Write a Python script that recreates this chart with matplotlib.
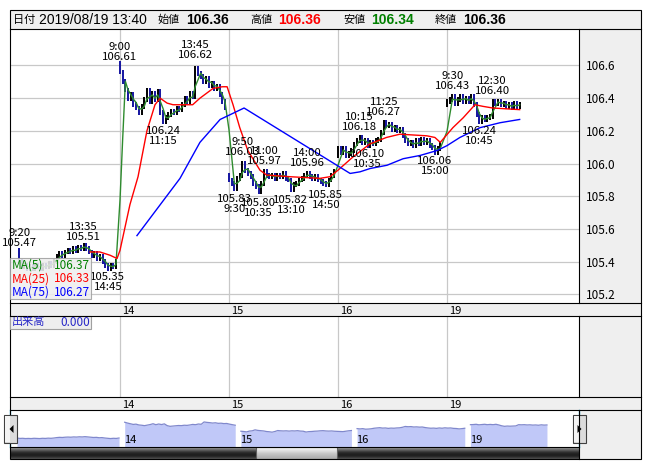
import numpy as np
import pandas as pd
import matplotlib
matplotlib.use('Agg')
import matplotlib.pyplot as plt
from matplotlib.patches import Rectangle, Polygon
from matplotlib.ticker import FormatStrFormatter
import matplotlib.transforms as mtrans

plt.rcParams['font.family'] = ['Liberation Sans Narrow', 'Noto Sans CJK JP', 'DejaVu Sans']

W, H = 652, 469
SLOTS = 40.5          # 10-minute slots per session column

# ── data (10-minute closes) ────────────────────────────────────────────────
day_labels = ['13', '14', '15', '16', '19']
first_slot = [3, 0, 0, 0, 0]
day_open   = [105.47, 106.61, 105.93, 106.05, 106.36]

close_13 = [105.40, 105.37, 105.38, 105.36, 105.37, 105.36, 105.38, 105.37, 105.36, 105.38,
            105.37, 105.39, 105.38, 105.40, 105.43, 105.45, 105.44, 105.46, 105.47, 105.46,
            105.48, 105.47, 105.49, 105.48, 105.50, 105.48, 105.46, 105.44, 105.45, 105.42,
            105.43, 105.40, 105.38, 105.36, 105.38, 105.37, 105.40]
close_14 = [106.56, 106.50, 106.45, 106.40, 106.42, 106.36, 106.34, 106.31, 106.35, 106.39,
            106.45, 106.38, 106.43, 106.39, 106.44, 106.31, 106.26, 106.28, 106.30, 106.32,
            106.31, 106.34, 106.33, 106.36, 106.40, 106.38, 106.43, 106.41, 106.58, 106.55,
            106.53, 106.50, 106.52, 106.48, 106.49, 106.46, 106.47, 106.42, 106.38, 106.34]
close_15 = [105.90, 105.88, 105.85, 105.91, 105.93, 106.00, 105.96, 105.94, 105.92, 105.88,
            105.86, 105.83, 105.88, 105.95, 105.93, 105.92, 105.93, 105.91, 105.93, 105.92,
            105.94, 105.91, 105.90, 105.84, 105.87, 105.88, 105.90, 105.91, 105.93, 105.94,
            105.92, 105.91, 105.92, 105.90, 105.89, 105.88, 105.87, 105.90, 105.93, 105.95]
close_16 = [106.09, 106.07, 106.09, 106.05, 106.06, 106.08, 106.12, 106.14, 106.16, 106.13,
            106.14, 106.11, 106.13, 106.12, 106.14, 106.15, 106.19, 106.25, 106.23, 106.24,
            106.21, 106.22, 106.20, 106.21, 106.17, 106.14, 106.12, 106.13, 106.11, 106.14,
            106.12, 106.15, 106.13, 106.14, 106.11, 106.10, 106.07, 106.09, 106.12]
close_19 = [106.38, 106.39, 106.41, 106.37, 106.39, 106.41, 106.38, 106.40, 106.38, 106.41,
            106.36, 106.30, 106.26, 106.28, 106.27, 106.28, 106.29, 106.38, 106.37, 106.38,
            106.36, 106.37, 106.35, 106.36, 106.34, 106.37, 106.35, 106.36]
day_closes = [close_13, close_14, close_15, close_16, close_19]

# MA(25) / MA(75): (day, slot, value)
ma25_day  = [0, 0, 0, 0, 1, 1, 1, 1, 1, 1, 1, 1, 1, 1, 1, 1, 1,
             2, 2, 2, 2, 2, 2, 2, 2, 3, 3, 3, 3, 3, 3, 3, 3, 4, 4, 4, 4, 4, 4]
ma25_slot = [29.4, 33, 36.8, 39.4, 0, 3.7, 6.7, 10, 13, 14.9, 17.5, 19.7, 27, 29.7, 34.6, 38, 39.8,
             1.5, 4, 7, 11.5, 14, 22.7, 33.8, 37.5, 0, 5.5, 11.8, 18, 23, 33, 36, 38,
             2.2, 6, 10.4, 13.4, 17, 27]
ma25_val  = [105.46, 105.46, 105.44, 105.42, 105.47, 105.75, 105.92, 106.20, 106.36, 106.40,
             106.37, 106.36, 106.36, 106.40, 106.46, 106.47, 106.47,
             106.36, 106.22, 106.08, 105.96, 105.93, 105.92, 105.91, 105.92,
             105.96, 106.04, 106.12, 106.16, 106.18, 106.17, 106.16, 106.13,
             106.22, 106.28, 106.36, 106.35, 106.34, 106.33]

ma75_day  = [1, 1, 1, 1, 2, 3, 3, 3, 3, 3, 3, 3, 4, 4, 4, 4, 4]
ma75_slot = [6.3, 22.3, 29.7, 37.2, 5.6, 4.5, 8.2, 11.9, 18.2, 24.2, 30.5, 36.8, 0, 4.8, 12.3, 19.7, 27]
ma75_val  = [105.56, 105.91, 106.13, 106.27, 106.34, 105.94, 105.95, 105.97, 105.99, 106.03,
             106.05, 106.08, 106.11, 106.16, 106.22, 106.25, 106.27]

# high / low markers
ann_day   = [0, 0, 0, 1, 1, 1, 2, 2, 2, 2, 2, 2, 2, 3, 3, 3, 3, 4, 4, 4]
ann_slot  = [3, 27, 36, 0, 16, 28, 2, 5, 11, 13, 23, 29, 36, 8, 11, 17, 36, 2, 12, 17]
ann_time  = ['9:20', '13:35', '14:45', '9:00', '11:15', '13:45', '9:30', '9:50', '10:35', '11:00',
             '13:10', '14:00', '14:50', '10:15', '10:35', '11:25', '15:00', '9:30', '10:45', '12:30']
ann_price = [105.47, 105.51, 105.35, 106.61, 106.24, 106.62, 105.83, 106.03, 105.80, 105.97,
             105.82, 105.96, 105.85, 106.18, 106.10, 106.27, 106.06, 106.43, 106.24, 106.40]
ann_high  = [1, 1, 0, 1, 0, 1, 0, 1, 0, 1, 0, 1, 0, 1, 0, 1, 0, 1, 0, 1]

ma_names  = ['MA(5)', 'MA(25)', 'MA(75)']
ma_values = ['106.37', '106.33', '106.27']
ma_colors = ['#008000', '#ff0000', '#0000ff']

hdr_date   = '2019/08/19 13:40'
hdr_names  = ['始値', '高値', '安値', '終値']
hdr_values = [106.36, 106.36, 106.34, 106.36]
hdr_colors = ['black', '#ff0000', '#008000', 'black']


def rect(x0, y0, x1, y1):
    return [x0 / W, 1 - y1 / H, (x1 - x0) / W, (y1 - y0) / H]


# ── assemble series ─────────────────────────────────────────────────────────
pos, opens, closes, nav_x = [], [], [], []
nav_off = 0
nav_starts = []
for k, cl in enumerate(day_closes):
    prev = day_open[k]
    nav_starts.append(nav_off)
    for i, c in enumerate(cl):
        pos.append(k + (first_slot[k] + i) / SLOTS)
        opens.append(prev)
        closes.append(c)
        nav_x.append(nav_off + i)
        prev = c
    nav_off += len(cl) + 1
pos = np.array(pos); opens = np.array(opens); closes = np.array(closes)
nav_x = np.array(nav_x)
ma5 = pd.Series(closes).rolling(3, min_periods=1).mean()   # 3 x 10min ~ 5 x 5min

ma25_x = np.array(ma25_day) + np.array(ma25_slot) / SLOTS
ma75_x = np.array(ma75_day) + np.array(ma75_slot) / SLOTS

xlim = ((10 - 120) / 109 + 1, (579 - 120) / 109 + 1)

fig = plt.figure(figsize=(W / 100, H / 100), dpi=100)
fig.patch.set_facecolor('white')

# ── background panels ───────────────────────────────────────────────────────
bg = fig.add_axes([0, 0, 1, 1])
bg.set_xlim(0, W); bg.set_ylim(H, 0); bg.axis('off')
bg.add_patch(Rectangle((10, 10), 631, 449, fc='#efefef', ec='none'))

# ── price panel ─────────────────────────────────────────────────────────────
ax = fig.add_axes(rect(10, 29, 579, 303))
ax.set_facecolor('white')
ax.set_xlim(*xlim)
ax.set_ylim(105.148, 106.823)
ax.set_yticks(np.arange(105.2, 106.61, 0.2))
ax.yaxis.set_major_formatter(FormatStrFormatter('%.1f'))
ax.yaxis.tick_right()
ax.set_xticks([1, 2, 3, 4])
ax.set_xticklabels(day_labels[1:])
ax.tick_params(axis='y', length=0, pad=5, labelsize=8.5)
ax.tick_params(axis='x', length=0, pad=2, labelsize=8)
for t in ax.get_xticklabels():
    t.set_ha('left')
    t.set_transform(t.get_transform() + mtrans.ScaledTranslation(2 / 100, 0, fig.dpi_scale_trans))
ax.grid(color='#c8c8c8', lw=0.9)
ax.set_axisbelow(True)
for s in ax.spines.values():
    s.set_visible(False)

up = closes >= opens
ax.vlines(pos, np.minimum(opens, closes) - 0.015, np.maximum(opens, closes) + 0.015,
          colors=np.where(up, 'black', '#1414a0'), lw=1.4, zorder=2)
ax.plot(pos, ma5, color='#2e8b2e', lw=1.0, zorder=3)
ax.plot(ma25_x, ma25_val, color='#ff0000', lw=1.0, zorder=3)
ax.plot(ma75_x, ma75_val, color='#0000ff', lw=1.0, zorder=3)

for d, s, tm, p, hi in zip(ann_day, ann_slot, ann_time, ann_price, ann_high):
    x = d + s / SLOTS
    if hi:
        ax.annotate(f'{tm}\n{p:.2f}', (x, p), xytext=(0, 1.5), textcoords='offset points',
                    ha='center', va='bottom', fontsize=8.2, linespacing=1.0, zorder=5)
    else:
        ax.annotate(f'{p:.2f}\n{tm}', (x, p), xytext=(0, -1.5), textcoords='offset points',
                    ha='center', va='top', fontsize=8.2, linespacing=1.0, zorder=5)

# ── volume panel ────────────────────────────────────────────────────────────
vx = fig.add_axes(rect(10, 316, 579, 397))
vx.set_facecolor('white')
vx.set_xlim(*xlim); vx.set_ylim(0, 1)
vx.set_yticks([])
vx.set_xticks([1, 2, 3, 4])
vx.set_xticklabels(day_labels[1:])
vx.tick_params(axis='x', length=0, pad=2, labelsize=8)
for t in vx.get_xticklabels():
    t.set_ha('left')
    t.set_transform(t.get_transform() + mtrans.ScaledTranslation(2 / 100, 0, fig.dpi_scale_trans))
vx.grid(axis='x', color='#c8c8c8', lw=0.9)
for s in vx.spines.values():
    s.set_visible(False)

# ── navigator ───────────────────────────────────────────────────────────────
nv = fig.add_axes(rect(10, 410, 579, 447))
nv.set_facecolor('white')
nv.set_xlim(-7 / 2.83, nav_x[-1] + 32 / 2.83)
nv.set_ylim(104.74, 107.46)
nv.set_xticks([]); nv.set_yticks([])
k0 = 0
for k, cl in enumerate(day_closes):
    xs = nav_x[k0:k0 + len(cl)]
    nv.fill_between(xs, 104.74, cl, color='#c0c8f8', lw=0)
    nv.plot(xs, cl, color='#8088cc', lw=0.9)
    if k > 0:
        nv.text(nav_starts[k] - 0.3, 0.19, day_labels[k], transform=nv.get_xaxis_transform(),
                ha='left', va='center', fontsize=8)
    k0 += len(cl)
for side in ['top', 'bottom']:
    nv.spines[side].set_visible(False)
for side in ['left', 'right']:
    nv.spines[side].set_color('#30b8e8')
    nv.spines[side].set_lw(1.0)

# scrollbar
sb = fig.add_axes(rect(10, 447, 579, 459))
sb.set_xlim(0, 1); sb.set_ylim(0, 1); sb.axis('off')
trough = np.array([0.62, 0.50, 0.38, 0.27, 0.19, 0.14, 0.12, 0.14, 0.20, 0.30])[:, None]
sb.imshow(np.repeat(trough, 2, axis=1), cmap='gray', vmin=0, vmax=1, aspect='auto',
          extent=(0, 1, 0, 1), interpolation='bilinear')
thumb = np.array([0.97, 0.94, 0.90, 0.86, 0.82, 0.78, 0.75, 0.72, 0.70, 0.68])[:, None]
t0, t1 = (256 - 10) / 569, (337 - 10) / 569
sb.imshow(np.repeat(thumb, 2, axis=1), cmap='gray', vmin=0, vmax=1, aspect='auto',
          extent=(t0, t1, 0, 1), interpolation='bilinear')
sb.add_patch(Rectangle((t0, 0), t1 - t0, 1, fc='none', ec='#606060', lw=0.8))

# ── overlay: frame, header, legend, buttons ────────────────────────────────
ov = fig.add_axes([0, 0, 1, 1])
ov.set_xlim(0, W); ov.set_ylim(H, 0); ov.axis('off')
ov.patch.set_alpha(0)
lk = dict(color='black', lw=0.8)
ov.add_patch(Rectangle((10, 10), 631, 449, fc='none', ec='black', lw=0.8))
for y in [29, 303, 316, 397, 410]:
    ov.plot([10, 641], [y, y], **lk)
ov.plot([10, 579], [447, 447], **lk)
for y0, y1 in [(29, 303), (316, 397), (410, 459)]:
    ov.plot([579, 579], [y0, y1], **lk)

# header
ov.text(13, 20, '日付', fontsize=8, va='center', ha='left', family=['Noto Sans CJK JP'])
ov.text(39, 20.5, hdr_date, fontsize=10, va='center', ha='left', family=['Liberation Sans'])
for name, val, col, xn in zip(hdr_names, hdr_values, hdr_colors, [158, 250, 343, 435]):
    ov.text(xn, 20, name, fontsize=8, va='center', ha='left', family=['Noto Sans CJK JP'])
    ov.text(xn + 28, 20.5, f'{val:.2f}', fontsize=10, va='center', ha='left',
            color=col, fontweight='bold', family=['Liberation Sans'])

# MA legend box
ov.add_patch(Rectangle((10, 258), 81, 41, fc='#eeeeee', ec='#a0a0a0', lw=0.8, alpha=0.88))
for i, (nm, vv, cc) in enumerate(zip(ma_names, ma_values, ma_colors)):
    yy = 265.5 + i * 13.5
    ov.text(12, yy, nm, color=cc, fontsize=8.5, va='center', ha='left')
    ov.text(90, yy, vv, color=cc, fontsize=8.5, va='center', ha='right')

# volume label box
ov.add_patch(Rectangle((10, 316), 81, 13, fc='#eeeeee', ec='#a0a0a0', lw=0.8))
ov.text(12, 322.5, '出来高', color='#2828c8', fontsize=8, va='center', ha='left',
        family=['Noto Sans CJK JP'])
ov.text(90, 322.5, '0.000', color='#2828c8', fontsize=8.5, va='center', ha='right')

# navigator buttons
for bx, tri in [(4, [(13.5, 425), (13.5, 433), (9.5, 429)]),
                (573, [(577.5, 425), (577.5, 433), (581.5, 429)])]:
    ov.add_patch(Rectangle((bx, 415), 13, 28, fc='#dcdcdc', ec='#404040', lw=0.8))
    ov.add_patch(Rectangle((bx + 1, 416), 5, 26, fc='#f4f4f4', ec='none'))
    ov.add_patch(Polygon(tri, closed=True, fc='black', ec='none'))

fig.savefig('out.png', dpi=100)
